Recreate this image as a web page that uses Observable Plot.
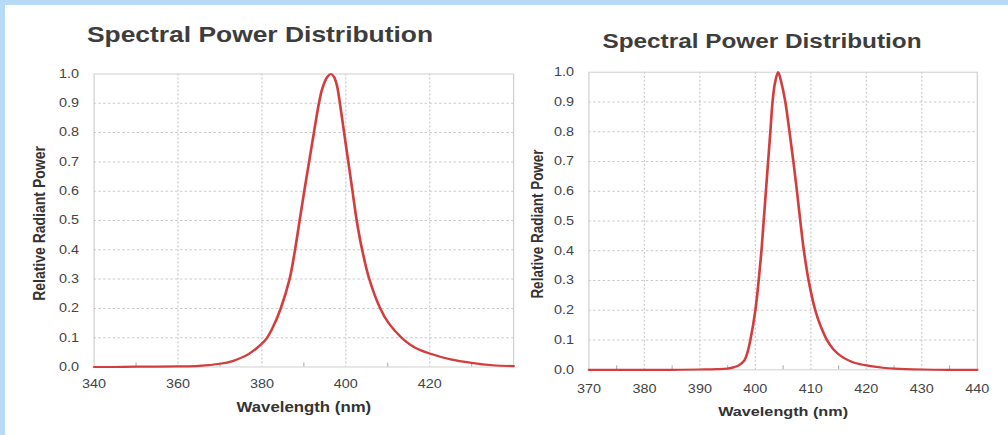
<!DOCTYPE html>
<html>
<head>
<meta charset="utf-8">
<script src="https://cdn.jsdelivr.net/npm/d3@7"></script>
<script src="https://cdn.jsdelivr.net/npm/@observablehq/plot@0.6"></script>
<style>
  html, body { margin: 0; padding: 0; }
  body { width: 1008px; height: 435px; background: #b7dbf7; position: relative; overflow: hidden; font-family: "Liberation Sans", Arial, sans-serif; }
  #panel { position: absolute; left: 5px; top: 5px; width: 1003px; height: 430px; background: #ffffff; }
  .chart { position: absolute; transform-origin: 0 0; transform: scaleX(1.2); }
  .chart svg { max-width: none !important; display: block; }
  .title { position: absolute; white-space: nowrap; font-weight: bold; color: #3d3d3d; transform: translate(-50%, -50%) scaleX(1.2); }
</style>
</head>
<body>
<div id="panel"></div>
<div id="left" class="chart" style="left:5px; top:5px;"></div>
<div id="right" class="chart" style="left:525px; top:5px;"></div>
<div class="title" style="left:260px; top:35px; font-size:22px;">Spectral Power Distribution</div>
<div class="title" style="left:762px; top:41px; font-size:20.3px;">Spectral Power Distribution</div>
<script>
// ---- data ----
const chartTitle = "Spectral Power Distribution";
const xTitle = "Wavelength (nm)";
const yTitle = "Relative Radiant Power";

const leftWavelength = [340,345,350,355,360,365,370,373,375,377,379,381,382.6,384.5,386.6,387.9,389.0,390.1,391.25,392.4,393.6,394.4,395.6,396.5,397.2,397.9,398.6,399.6,400.6,401.6,402.6,403.9,405.6,408.2,410.2,413.3,415.5,417.7,420,425,430,435,440];
const leftPower      = [0,0,0.001,0.001,0.002,0.004,0.011,0.02,0.031,0.046,0.067,0.095,0.135,0.2,0.3,0.4,0.5,0.6,0.7,0.8,0.9,0.95,0.99,1.0,0.99,0.96,0.9,0.8,0.7,0.6,0.5,0.4,0.3,0.2,0.15,0.1,0.075,0.058,0.046,0.026,0.014,0.006,0.003];
const leftXTicks = [340,360,380,400,420];
const leftXGrid = [360,380,400,420];
const leftXMinor = [350,370,390,410,430];

const rightWavelength = [370,380,385,390,393,395,396.2,397,398,398.6,399.1,400.0,400.6,401.1,401.5,401.9,402.3,402.7,403.1,403.5,404.1,404.75,405.4,406.15,406.85,407.5,408.1,408.75,409.6,410.8,411.7,412.9,414,415,416,417,418,420,423,425,430,435,440];
const rightPower      = [0,0,0,0.001,0.002,0.004,0.009,0.015,0.031,0.06,0.1,0.2,0.3,0.4,0.5,0.6,0.7,0.8,0.9,0.96,1.0,0.96,0.9,0.8,0.7,0.6,0.5,0.4,0.3,0.2,0.15,0.1,0.07,0.052,0.039,0.03,0.023,0.015,0.007,0.004,0.001,0,0];
const rightXTicks = [370,380,390,400,410,420,430,440];
const rightXGrid = [380,390,400,410,420,430];
const rightXMinor = [375,385,395,405,415,425,435];

const yTicks = [0,0.1,0.2,0.3,0.4,0.5,0.6,0.7,0.8,0.9,1.0];
const yGrid = [0.1,0.2,0.3,0.4,0.5,0.6,0.7,0.8,0.9];

// ---- drawing ----
const S = 1.2; // horizontal stretch of the reference
const lineColor = "#d33d3d";
const gridColor = "#c9c9c9";
const frameColor = "#cfcfcf";
const tickColor = "#444";

function spectrum({wl, pw, xDomain, xTicks, xGrid, xMinor, pageLeft, plotLeft, plotRight, plotTop, plotBottom, svgRight, xPad, yLabelX, xLabelY, axisFont}) {
  const rows = wl.map((w, i) => ({w, p: pw[i]}));
  const height = 430;
  const width = (svgRight - pageLeft) / S;
  const marginLeft = (plotLeft - pageLeft) / S;
  const marginRight = width - (plotRight - pageLeft) / S;
  const marginTop = plotTop - 5;
  const marginBottom = 435 - plotBottom;
  const plotH = plotBottom - plotTop;
  return Plot.plot({
    width, height, marginLeft, marginRight, marginTop, marginBottom,
    style: {background: "white", fontFamily: "'Liberation Sans', Arial, sans-serif", fontSize: "12px", color: tickColor},
    x: {domain: xDomain},
    y: {domain: [0, 1]},
    marks: [
      Plot.gridX(xGrid, {stroke: gridColor, strokeOpacity: 1, strokeDasharray: "2,2"}),
      Plot.gridY(yGrid, {stroke: gridColor, strokeOpacity: 1, strokeDasharray: "2,2"}),
      Plot.frame({stroke: frameColor}),
      Plot.tickX(xMinor, {x: d => d, insetTop: plotH - 4, stroke: "#b5b5b5"}),
      Plot.axisY({ticks: yTicks, tickSize: 0, tickPadding: 12.5, tickFormat: d3.format(".1f"), label: null, fill: tickColor}),
      Plot.axisX({ticks: xTicks, tickSize: 0, tickPadding: xPad, tickFormat: d => String(d), label: null, fill: tickColor}),
      Plot.line(rows, {x: "w", y: "p", stroke: lineColor, strokeWidth: 2.2, curve: "catmull-rom"}),
      Plot.text([yTitle], {frameAnchor: "left", textAnchor: "middle", rotate: -90, dx: -(plotLeft - yLabelX) / S, dy: 3, fontWeight: "bold", fontSize: axisFont, fill: "#333"}),
      Plot.text([xTitle], {frameAnchor: "bottom", textAnchor: "middle", dy: xLabelY - plotBottom, fontWeight: "bold", fontSize: axisFont, fill: "#333"})
    ]
  });
}

document.getElementById("left").append(spectrum({
  wl: leftWavelength, pw: leftPower, xDomain: [340, 440],
  xTicks: leftXTicks, xGrid: leftXGrid, xMinor: leftXMinor,
  pageLeft: 5, plotLeft: 93.5, plotRight: 513, plotTop: 73.5, plotBottom: 366.5, svgRight: 525,
  xPad: 12.5, yLabelX: 39, xLabelY: 411.5, axisFont: 14
}));

document.getElementById("right").append(spectrum({
  wl: rightWavelength, pw: rightPower, xDomain: [370, 440],
  xTicks: rightXTicks, xGrid: rightXGrid, xMinor: rightXMinor,
  pageLeft: 525, plotLeft: 588.3, plotRight: 976.7, plotTop: 71.7, plotBottom: 369.3, svgRight: 1008,
  xPad: 14.5, yLabelX: 537.5, xLabelY: 415.5, axisFont: 13.5
}));
</script>
</body>
</html>
